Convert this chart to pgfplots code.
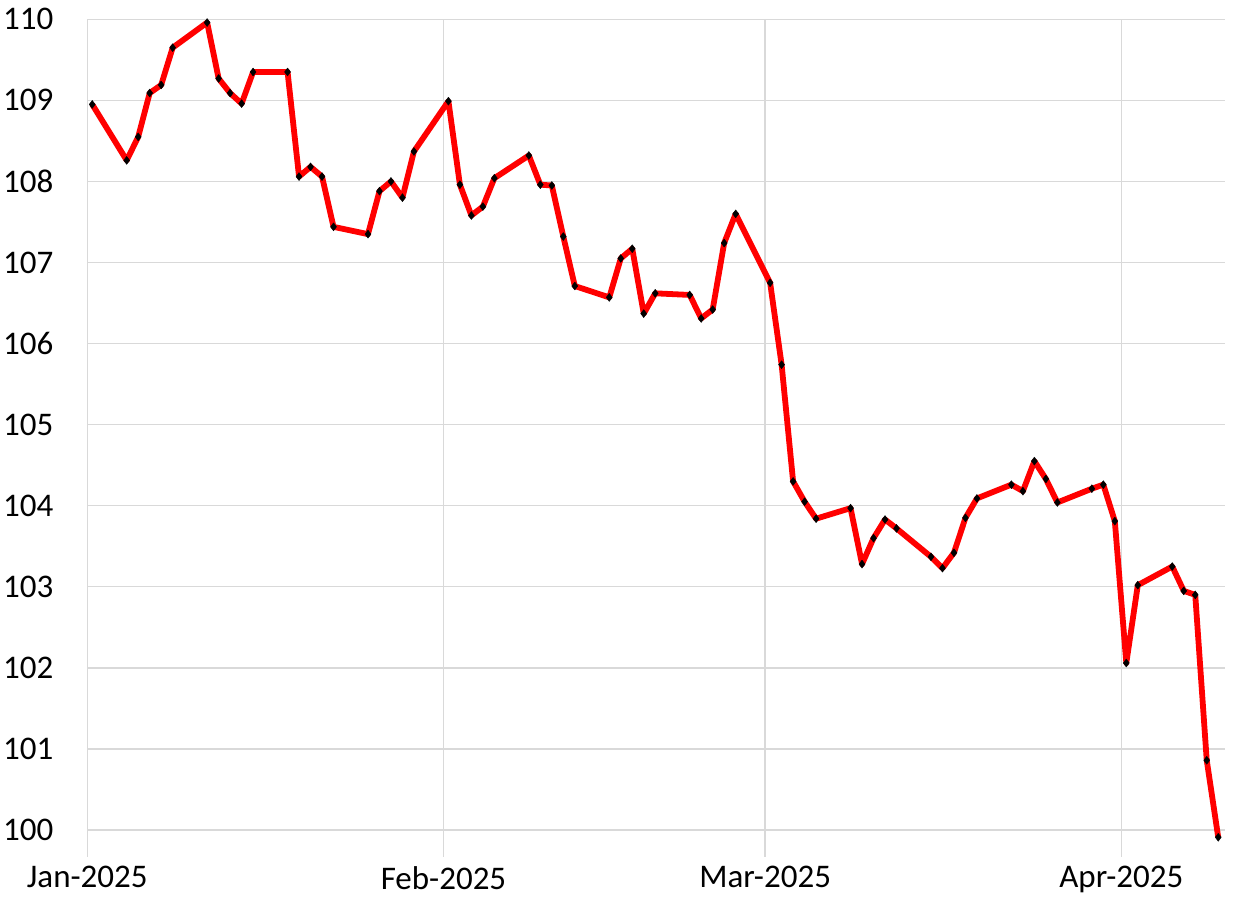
\documentclass[border=0pt]{standalone}
\usepackage{pgfplots}
\pgfplotsset{compat=1.18}
\usepackage{fontspec}
\setmainfont{Carlito}
\definecolor{gridc}{HTML}{D9D9D9}
\pgfplotstableread{
d v
0 108.95
3 108.26
4 108.55
5 109.09
6 109.19
7 109.65
10 109.96
11 109.27
12 109.09
13 108.96
14 109.35
17 109.35
18 108.06
19 108.18
20 108.06
21 107.44
24 107.35
25 107.88
26 108.00
27 107.80
28 108.37
31 108.99
32 107.96
33 107.58
34 107.69
35 108.04
38 108.32
39 107.96
40 107.95
41 107.32
42 106.71
45 106.57
46 107.05
47 107.17
48 106.37
49 106.62
52 106.60
53 106.31
54 106.42
55 107.24
56 107.60
59 106.75
60 105.74
61 104.30
62 104.05
63 103.84
66 103.97
67 103.28
68 103.60
69 103.83
70 103.72
73 103.37
74 103.23
75 103.42
76 103.85
77 104.09
80 104.26
81 104.18
82 104.55
83 104.33
84 104.04
87 104.21
88 104.26
89 103.81
90 102.06
91 103.02
94 103.25
95 102.95
96 102.90
97 100.86
98 99.91
}\datatable
\begin{document}
\begin{tikzpicture}
\begin{axis}[
 at={(43.65pt,36pt)}, anchor=south west,
 scale only axis, width=568.85pt, height=405.35pt,
 xmin=-0.43, xmax=98.59, ymin=100, ymax=110,
 xtick={-0.43,30.57,58.57,89.57},
 xticklabels={Jan-2025,Feb-2025,Mar-2025,Apr-2025},
 ytick={100,101,...,110},
 grid=major, major grid style={gridc, line width=0.7pt},
 axis line style={draw=none},
 tick style={draw=none},
 clip=false,
 ticklabel style={font=\fontsize{16.5}{19}\selectfont, inner sep=0pt},
 xticklabel style={anchor=north, yshift=-18pt},
 yticklabel style={anchor=east, xshift=-16.8pt},
 /pgf/number format/assume math mode=true,
]
\pgfplotsinvokeforeach{-0.43,30.57,58.57,89.57}{
 \draw[gridc, line width=0.7pt] (axis cs:#1,100) -- ++(0pt,-13.5pt);
}
\addplot[red, line width=2.9pt, line join=round, mark=diamond*, mark size=2pt,
 mark options={black, fill=black, line width=0.2pt}] table[x=d, y=v] {\datatable};
\end{axis}
\pgfresetboundingbox
\useasboundingbox (0,0) rectangle (619pt,451pt);
\end{tikzpicture}
\end{document}
